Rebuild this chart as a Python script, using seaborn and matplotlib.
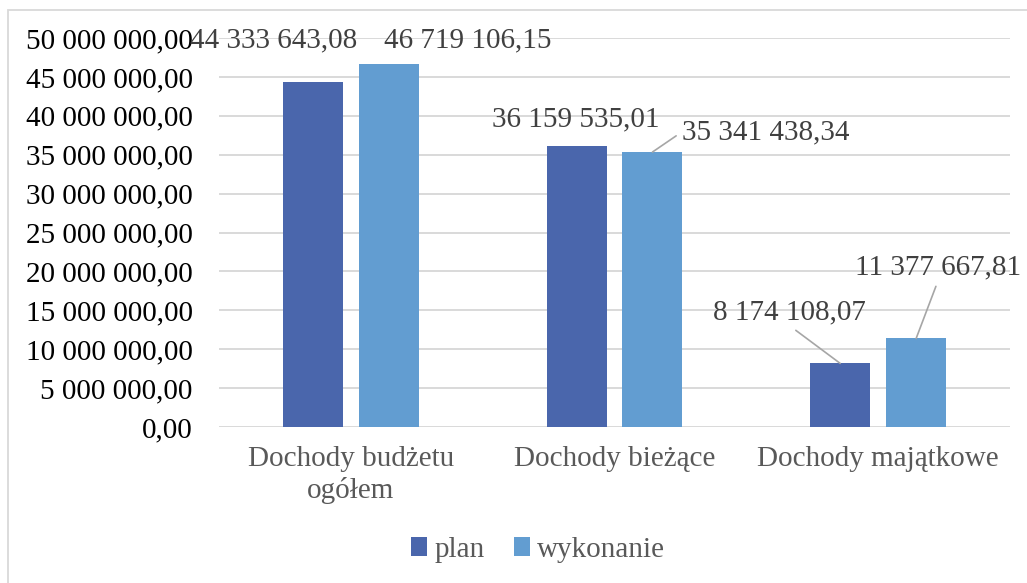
import matplotlib
matplotlib.use("Agg")
import matplotlib.pyplot as plt
import seaborn as sns
import pandas as pd
from matplotlib.patches import Rectangle

categories = ["Dochody budżetu\nogółem", "Dochody bieżące", "Dochody majątkowe"]
series = ["plan", "wykonanie"]
plan = [44333643.08, 36159535.01, 8174108.07]
wykonanie = [46719106.15, 35341438.34, 11377667.81]
yticks = [0, 5e6, 10e6, 15e6, 20e6, 25e6, 30e6, 35e6, 40e6, 45e6, 50e6]

colors = ["#4A66AC", "#629DD1"]


def fmt(v):
    return f"{v:,.2f}".replace(",", " ").replace(".", ",")


df = pd.DataFrame({
    "kat": categories * 2,
    "seria": [series[0]] * 3 + [series[1]] * 3,
    "wartosc": plan + wykonanie,
})

sns.set_style("white")
plt.rcParams["font.family"] = ["Liberation Serif", "DejaVu Serif"]

fig = plt.figure(figsize=(10.27, 5.83), dpi=100)
ax = fig.add_axes([219 / 1027, 1 - 427 / 583, (1010 - 219) / 1027, (427 - 38) / 583])

sns.barplot(data=df, x="kat", y="wartosc", hue="seria", palette=colors,
            width=0.576, gap=0.21, linewidth=0, saturation=1, ax=ax,
            legend=True, order=categories, hue_order=series)

ax.set_xlim(-0.5, 2.5)
ax.set_ylim(0, 50e6)
ax.set_yticks(yticks)
ax.set_yticklabels([fmt(v) for v in yticks], fontsize=21, color="black")
ax.tick_params(axis="y", length=0, pad=19)
ax.tick_params(axis="x", length=0, pad=14, labelsize=21, labelcolor="#595959")
ax.set_xlabel("")
ax.set_ylabel("")
for s in ax.spines.values():
    s.set_visible(False)
ax.yaxis.grid(True, color="#D9D9D9", linewidth=1.4)
ax.set_axisbelow(True)

# data labels: offsets in pixels relative to bar tops
offsets = {
    (0, 0): (-39, 42, None),
    (1, 0): (79, 23, None),
    (0, 1): (-1, 26, None),
    (1, 1): (113, 20, (0.0, 0.5)),
    (0, 2): (-51, 51, (0.5, 0.0)),
    (1, 2): (22, 71, (0.5, 0.0)),
}
for si, cont in enumerate(ax.containers):
    for ci, bar in enumerate(cont):
        x = bar.get_x() + bar.get_width() / 2
        y = bar.get_height()
        dx, dy, rel = offsets[(si, ci)]
        kw = {}
        if rel is not None:
            kw["arrowprops"] = dict(arrowstyle="-", color="#A6A6A6", lw=1.2,
                                    relpos=rel, shrinkA=2, shrinkB=0)
        ax.annotate(fmt(y), xy=(x, y), xytext=(dx, dy),
                    textcoords="offset pixels", ha="center", va="center",
                    fontsize=21, color="#404040", annotation_clip=False, **kw)

handles, labels = ax.get_legend_handles_labels()
ax.get_legend().remove()
fig.legend(handles, labels, loc="center", bbox_to_anchor=(538 / 1027, 1 - 550 / 583),
           ncol=2, frameon=False, fontsize=21, labelcolor="#595959",
           handlelength=0.55, handleheight=0.6, handletextpad=0.25, columnspacing=1.0)

fig.patches.append(Rectangle((8 / 1027, -0.05), 1.1, 1 - 10 / 583 + 0.05,
                             transform=fig.transFigure, fill=False,
                             edgecolor="#D9D9D9", linewidth=1.3, zorder=-1))

fig.savefig("out.png", dpi=100)
